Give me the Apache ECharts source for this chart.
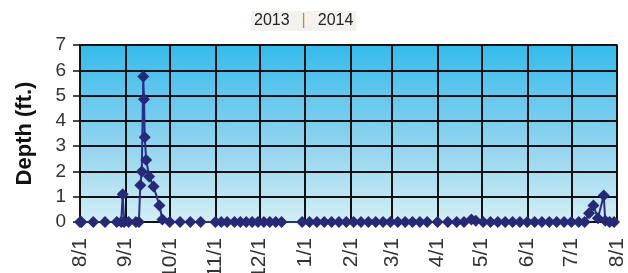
<!DOCTYPE html>
<html>
<head>
<meta charset="utf-8">
<script src="https://cdn.jsdelivr.net/npm/echarts@6/dist/echarts.min.js"></script>
<style>
  html, body { margin: 0; padding: 0; background: #fff; }
  #chart { width: 628px; height: 273px; }
</style>
</head>
<body>
<div id="chart"></div>
<script>
// measurement dates (gaps = no readings)
var dates = [
  '2013-08-01','2013-08-02','2013-08-10','2013-08-18','2013-08-26','2013-08-29','2013-08-30','2013-08-31',
  '2013-09-03','2013-09-08','2013-09-10','2013-09-11','2013-09-12','2013-09-13','2013-09-13 12:00',
  '2013-09-14','2013-09-15','2013-09-17','2013-09-20','2013-09-24','2013-09-26',
  '2013-10-01','2013-10-08','2013-10-15','2013-10-22',
  '2013-11-01','2013-11-05','2013-11-09','2013-11-14','2013-11-18','2013-11-22','2013-11-26','2013-11-30',
  '2013-12-04','2013-12-08','2013-12-12','2013-12-16',
  '2013-12-30','2014-01-04','2014-01-09','2014-01-14','2014-01-19','2014-01-24','2014-01-29',
  '2014-02-03','2014-02-08','2014-02-13','2014-02-18','2014-02-23','2014-02-28',
  '2014-03-05','2014-03-10','2014-03-15','2014-03-20','2014-03-25',
  '2014-04-01','2014-04-08','2014-04-14','2014-04-19','2014-04-24','2014-04-27',
  '2014-05-02','2014-05-07','2014-05-12','2014-05-17','2014-05-22','2014-05-27',
  '2014-06-01','2014-06-06','2014-06-11','2014-06-16','2014-06-21','2014-06-26',
  '2014-07-01','2014-07-06','2014-07-10','2014-07-13','2014-07-16','2014-07-19',
  '2014-07-23','2014-07-24','2014-07-27','2014-07-30'
];
// depth in feet
var depths = [
  0, 0, 0, 0, 0, 0, 1.1, 0,
  0, 0, 0, 1.45, 2.0, 5.75, 4.85,
  3.35, 2.45, 1.8, 1.4, 0.65, 0.1,
  0, 0, 0, 0,
  0, 0, 0, 0, 0, 0, 0, 0,
  0, 0, 0, 0,
  0, 0, 0, 0, 0, 0, 0,
  0, 0, 0, 0, 0, 0,
  0, 0, 0, 0, 0,
  0, 0, 0, 0, 0.1, 0.05,
  0, 0, 0, 0, 0, 0,
  0, 0, 0, 0, 0, 0,
  0, 0, 0, 0.35, 0.65, 0.15,
  1.05, 0.05, 0, 0
];
var yTicks = [0, 1, 2, 3, 4, 5, 6, 7];

var seriesData = dates.map(function (d, i) { return [d, depths[i]]; });

var myChart = echarts.init(document.getElementById('chart'));
myChart.setOption({
  animation: false,
  textStyle: { fontFamily: 'Liberation Sans, Arial, sans-serif' },
  title: {
    text: '{a|2013}{b||}{a|2014}',
    left: 251,
    top: 11,
    padding: [2, 3],
    backgroundColor: '#f3f2ef',
    textStyle: {
      fontWeight: 'normal',
      rich: {
        a: { fontSize: 16, fontWeight: 'normal', color: '#222' },
        b: { fontSize: 16, fontWeight: 'normal', color: '#c8883a', padding: [0, 12] }
      }
    }
  },
  grid: {
    show: true,
    left: 80,
    right: 11,
    top: 45,
    bottom: 51,
    outerBoundsMode: 'none',
    containLabel: false,
    borderColor: '#111',
    borderWidth: 1.5,
    backgroundColor: new echarts.graphic.LinearGradient(0, 0, 0, 1, [
      { offset: 0, color: '#33bbeb' },
      { offset: 0.5, color: '#86d0ee' },
      { offset: 1, color: '#d4eef4' }
    ])
  },
  xAxis: {
    type: 'time',
    min: '2013-08-01',
    max: '2014-08-01',
    minInterval: 28 * 86400000,
    maxInterval: 31 * 86400000,
    axisLine: { show: true, lineStyle: { color: '#111', width: 2 } },
    axisTick: { show: false },
    splitLine: { show: true, lineStyle: { color: '#111', width: 2 } },
    axisLabel: {
      rotate: 90,
      margin: 16,
      fontSize: 21,
      color: '#333',
      showMinLabel: true,
      showMaxLabel: true,
      hideOverlap: false,
      formatter: function (v) {
        var d = new Date(v);
        return (d.getMonth() + 1) + '/' + d.getDate();
      }
    }
  },
  yAxis: {
    type: 'value',
    min: yTicks[0],
    max: yTicks[yTicks.length - 1],
    interval: 1,
    name: 'Depth (ft.)',
    nameLocation: 'middle',
    nameGap: 44,
    nameTextStyle: { fontSize: 22, fontWeight: 'bold', color: '#111' },
    axisLine: { show: true, lineStyle: { color: '#111', width: 2 } },
    axisTick: { show: true, length: 7, lineStyle: { color: '#111', width: 1.5 } },
    splitLine: { show: true, lineStyle: { color: '#111', width: 2 } },
    axisLabel: { fontSize: 19, color: '#333', margin: 14 }
  },
  series: [{
    type: 'line',
    data: seriesData,
    symbol: 'diamond',
    symbolSize: 12,
    lineStyle: { color: '#2c2c8a', width: 2 },
    itemStyle: { color: '#262878' }
  }]
});
</script>
</body>
</html>
